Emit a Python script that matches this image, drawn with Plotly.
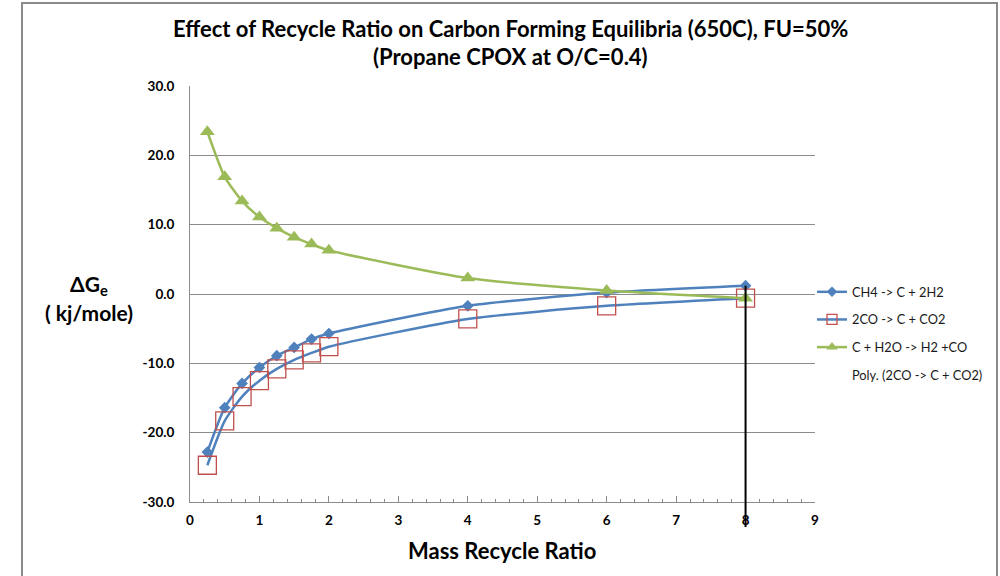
import plotly.graph_objects as go

# ---------------- data ----------------
recycle_ratio = [0.25, 0.5, 0.75, 1.0, 1.25, 1.5, 1.75, 2.0, 4.0, 6.0, 8.0]
ch4_dg = [-22.8, -16.4, -12.9, -10.6, -8.9, -7.7, -6.5, -5.7, -1.7, 0.2, 1.2]
co_dg = [-24.7, -18.3, -14.8, -12.5, -10.8, -9.5, -8.5, -7.6, -3.6, -1.7, -0.6]
h2o_dg = [23.4, 16.9, 13.4, 11.1, 9.5, 8.2, 7.2, 6.3, 2.3, 0.5, -0.6]

series_names = ["CH4 -> C + 2H2", "2CO -> C + CO2", "C + H2O -> H2 +CO",
                "Poly. (2CO -> C + CO2)"]
y_tick_vals = [-30, -20, -10, 0, 10, 20, 30]
y_tick_text = ["-30.0", "-20.0", "-10.0", "0.0", "10.0", "20.0", "30.0"]
x_tick_vals = [0, 1, 2, 3, 4, 5, 6, 7, 8, 9]
x_tick_text = ["0", "1", "2", "3", "4", "5", "6", "7", "8", "9"]

title_line1 = "Effect of Recycle Ratio on Carbon Forming Equilibria (650C), FU=50%"
title_line2 = "(Propane CPOX at O/C=0.4)"
x_title = "Mass Recycle Ratio"
y_title_line1 = "ΔG<sub>e</sub>"
y_title_line2 = "( kj/mole)"

# ---------------- layout geometry ----------------
W, H = 1000, 576
ML, MR, MT, MB = 190, 185, 86, 74
PW, PH = W - ML - MR, H - MT - MB
X_RANGE = [0, 9]
Y_RANGE = [-30, 30]


def px_x(p):
    return (p - ML) / PW


def px_y(p):
    return (H - MB - p) / PH


FONT = "Lato"
BLUE = "#4F81BD"
RED = "#C0504D"
GREEN = "#9BBB59"
GRID = "#8C8C8C"

fig = go.Figure()

styles = [
    dict(line=dict(color=BLUE, width=2.5), sym="diamond", size=9, leg=8,
         mcolor=BLUE, mline=dict(width=0)),
    dict(line=dict(color=BLUE, width=2.5), sym="square-open", size=18, leg=10,
         mcolor=RED, mline=dict(width=1.3, color=RED)),
    dict(line=dict(color=GREEN, width=2.5), sym="triangle-up", size=13, leg=10,
         mcolor=GREEN, mline=dict(width=0)),
]
values = [ch4_dg, co_dg, h2o_dg]

for name, yv, st in zip(series_names[:3], values, styles):
    fig.add_trace(go.Scatter(
        x=recycle_ratio, y=yv, name=name, mode="lines+markers",
        line=dict(**st["line"], shape="spline", smoothing=0.6),
        marker=dict(symbol=st["sym"], size=st["size"], color=st["mcolor"], line=st["mline"]),
        showlegend=False, cliponaxis=False))

# legend entries (small symbols as in the reference legend)
for i, (name, st) in enumerate(zip(series_names[:3], styles)):
    fig.add_trace(go.Scatter(
        x=[None], y=[None], name=name, mode="lines+markers",
        line=st["line"],
        marker=dict(symbol=st["sym"], size=st["leg"], color=st["mcolor"], line=st["mline"]),
        legendgroup=f"g{i}"))

fig.add_trace(go.Scatter(
    x=[None], y=[None], name=series_names[3], mode="lines",
    line=dict(color="rgba(0,0,0,0)", width=1), legendgroup="g3"))

# vertical drop line at the last recycle ratio
x_last = recycle_ratio[-1]
fig.add_shape(type="line", xref="x", yref="paper",
              x0=x_last, x1=x_last,
              y0=(ch4_dg[-1] - Y_RANGE[0]) / (Y_RANGE[1] - Y_RANGE[0]),
              y1=px_y(527),
              line=dict(color="black", width=2))

# chart-area frame
fig.add_shape(type="rect", xref="paper", yref="paper",
              x0=px_x(22), x1=px_x(997), y0=px_y(590), y1=px_y(3),
              line=dict(color="#8A8A8A", width=2), layer="below")

title_font = dict(family=FONT, size=22, color="black", weight="bold")
fig.add_annotation(text=title_line1, xref="paper", yref="paper",
                   x=px_x(511), y=px_y(28), xanchor="center", yanchor="middle",
                   showarrow=False, font=title_font)
fig.add_annotation(text=title_line2, xref="paper", yref="paper",
                   x=px_x(511), y=px_y(57), xanchor="center", yanchor="middle",
                   showarrow=False, font=title_font)

# y axis title
ylab_font = dict(family=FONT, size=21, color="black", weight="bold")
fig.add_annotation(text=y_title_line1, xref="paper", yref="paper",
                   x=px_x(89), y=px_y(285), xanchor="center", yanchor="middle",
                   showarrow=False, font=ylab_font)
fig.add_annotation(text=y_title_line2, xref="paper", yref="paper",
                   x=px_x(89), y=px_y(312), xanchor="center", yanchor="middle",
                   showarrow=False, font=ylab_font)

# x axis title
fig.add_annotation(text=x_title, xref="paper", yref="paper",
                   x=px_x(502), y=px_y(550), xanchor="center", yanchor="middle",
                   showarrow=False,
                   font=dict(family=FONT, size=22, color="black", weight="bold"))

tick_font = dict(family=FONT, size=13.5, color="black", weight="bold")

fig.update_layout(
    width=W, height=H,
    margin=dict(l=ML, r=MR, t=MT, b=MB, autoexpand=False),
    paper_bgcolor="white", plot_bgcolor="white",
    showlegend=True,
    legend=dict(x=px_x(812), y=px_y(277), xanchor="left", yanchor="top",
                font=dict(family=FONT, size=12.8, color="#1a1a1a"),
                tracegroupgap=8, traceorder="grouped",
                bgcolor="rgba(0,0,0,0)", itemwidth=30),
    xaxis=dict(range=X_RANGE, tickvals=x_tick_vals, ticktext=x_tick_text,
               showgrid=False, zeroline=False, showline=True,
               linecolor=GRID, linewidth=1,
               ticks="inside", ticklen=6, tickcolor=GRID,
               minor=dict(dtick=0.2, ticks="inside", ticklen=3, tickcolor=GRID),
               tickfont=tick_font, ticklabelstandoff=6),
    yaxis=dict(range=Y_RANGE, tickvals=y_tick_vals, ticktext=y_tick_text,
               showgrid=True, gridcolor=GRID, gridwidth=1,
               zeroline=False, showline=True, linecolor=GRID, linewidth=1,
               ticks="", ticklabelstandoff=12, tickfont=tick_font),
)

fig.write_html("out.html")
